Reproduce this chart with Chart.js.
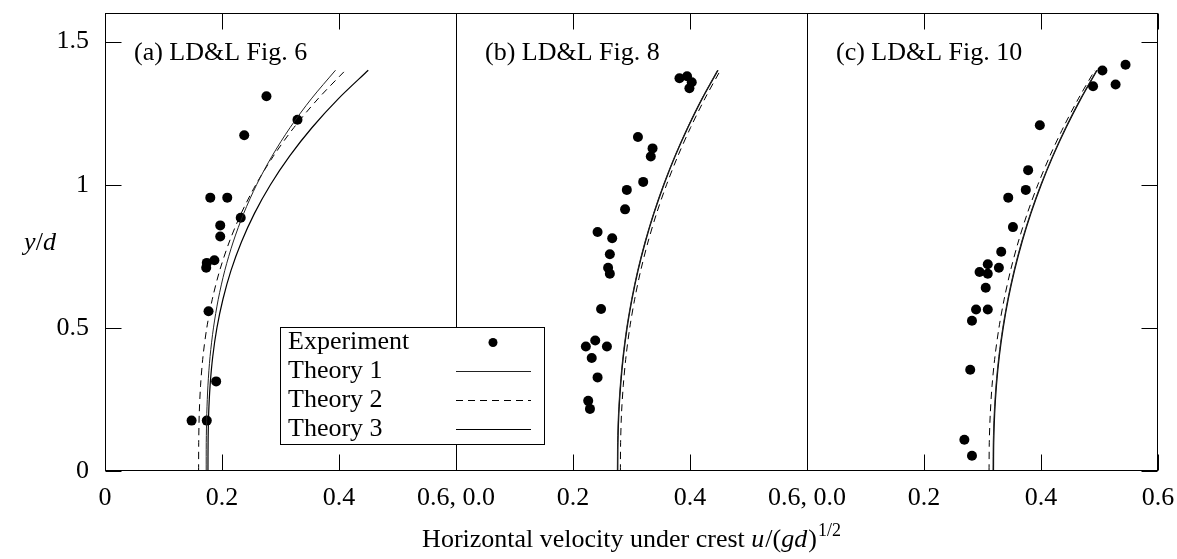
<!DOCTYPE html>
<html><head><meta charset="utf-8">
<script src="https://cdn.jsdelivr.net/npm/chart.js@4.4.0/dist/chart.umd.min.js"></script>
<style>html,body{margin:0;padding:0;background:#fff}canvas{display:block}</style>
</head><body>
<canvas id="c" width="1177" height="559"></canvas>
<script>
// ---------- data ----------
const panelTitles = ['(a) LD&L Fig. 6', '(b) LD&L Fig. 8', '(c) LD&L Fig. 10'];
const panelOffsets = [0, 0.6, 1.2];
const xTickValues = [0, 0.2, 0.4, 0.6, 0.8, 1.0, 1.2, 1.4, 1.6, 1.8];
const xTickLabels = ['0', '0.2', '0.4', '0.6, 0.0', '0.2', '0.4', '0.6, 0.0', '0.2', '0.4', '0.6'];
const yTickValues = [0, 0.5, 1, 1.5];
const yTickLabels = ['0', '0.5', '1', '1.5'];
const legendLabels = ['Experiment', 'Theory 1', 'Theory 2', 'Theory 3'];

const expA_x = [0.276, 0.329, 0.238, 0.180, 0.209, 0.232, 0.197, 0.197, 0.187, 0.174, 0.173, 0.177, 0.190, 0.148, 0.174];
const expA_y = [1.309, 1.227, 1.173, 0.955, 0.955, 0.885, 0.858, 0.819, 0.736, 0.727, 0.710, 0.558, 0.313, 0.176, 0.176];

const expB_x = [0.382, 0.395, 0.403, 0.399, 0.311, 0.336, 0.333, 0.320, 0.292, 0.289, 0.242, 0.267, 0.263, 0.260, 0.263, 0.248, 0.238, 0.222, 0.258, 0.232, 0.242, 0.226, 0.229];
const expB_y = [1.372, 1.379, 1.358, 1.337, 1.167, 1.127, 1.099, 1.010, 0.982, 0.914, 0.835, 0.813, 0.757, 0.710, 0.689, 0.566, 0.456, 0.435, 0.435, 0.395, 0.327, 0.245, 0.217];

const expC_x = [0.5445, 0.505, 0.489, 0.5275, 0.398, 0.378, 0.374, 0.344, 0.352, 0.332, 0.309, 0.328, 0.295, 0.309, 0.3055, 0.289, 0.309, 0.282, 0.279, 0.269, 0.282];
const expC_y = [1.419, 1.399, 1.344, 1.350, 1.208, 1.051, 0.982, 0.955, 0.852, 0.766, 0.722, 0.710, 0.695, 0.689, 0.640, 0.564, 0.564, 0.525, 0.354, 0.109, 0.053];

const curveY = [0, 0.1, 0.2, 0.3, 0.4, 0.5, 0.6, 0.7, 0.8, 0.9, 1.0, 1.1, 1.2, 1.3, 1.4];
const theory1A = [0.173, 0.1731, 0.174, 0.176, 0.1796, 0.1854, 0.1936, 0.2047, 0.2191, 0.2371, 0.2591, 0.2855, 0.3165, 0.3526, 0.394];
const theory2A = [0.160, 0.1602, 0.1611, 0.1634, 0.1675, 0.174, 0.1834, 0.196, 0.2124, 0.2328, 0.2578, 0.2878, 0.323, 0.364, 0.411];
const theory3A = [0.176, 0.1762, 0.1772, 0.1797, 0.1842, 0.1913, 0.2016, 0.2153, 0.2332, 0.2555, 0.2828, 0.3155, 0.354, 0.3987, 0.450];
const theory1B = [0.2758, 0.2762, 0.2777, 0.2808, 0.2854, 0.2918, 0.3002, 0.3105, 0.323, 0.3377, 0.3547, 0.374, 0.3958, 0.42, 0.447];
const theory2B = [0.281, 0.2814, 0.2829, 0.286, 0.2906, 0.297, 0.3054, 0.3157, 0.3282, 0.3429, 0.3599, 0.3792, 0.401, 0.4252, 0.452];
const theory3B = [0.2765, 0.2769, 0.2784, 0.2815, 0.2861, 0.2925, 0.3009, 0.3112, 0.3237, 0.3384, 0.3554, 0.3747, 0.3965, 0.4207, 0.448];
const theory1C = [0.318, 0.3184, 0.32, 0.3231, 0.3279, 0.3346, 0.3432, 0.3539, 0.3668, 0.382, 0.3996, 0.4197, 0.4422, 0.4673, 0.495];
const theory2C = [0.3112, 0.3116, 0.3133, 0.3164, 0.3213, 0.3281, 0.337, 0.3479, 0.3611, 0.3766, 0.3946, 0.4151, 0.4381, 0.4637, 0.492];
const theory3C = [0.3188, 0.3192, 0.3208, 0.3239, 0.3287, 0.3354, 0.344, 0.3547, 0.3676, 0.3828, 0.4004, 0.4205, 0.443, 0.4681, 0.496];

// ---------- build ----------
const SERIF = "'Liberation Serif', 'Times New Roman', serif";
const FS = 26;
function pts(xs, ys, off) { return xs.map((v, i) => ({ x: v + off, y: ys[i] })); }

const expSets = [[expA_x, expA_y], [expB_x, expB_y], [expC_x, expC_y]];
const theorySets = [
  [theory1A, theory2A, theory3A],
  [theory1B, theory2B, theory3B],
  [theory1C, theory2C, theory3C]
];
const theoryStyles = [
  { borderColor: '#222', borderWidth: 1, borderDash: [] },
  { borderColor: '#000', borderWidth: 1, borderDash: [7, 5] },
  { borderColor: '#000', borderWidth: 1.2, borderDash: [] }
];

const datasets = [];
panelOffsets.forEach((off, p) => {
  theorySets[p].forEach((xs, k) => {
    datasets.push(Object.assign({
      label: legendLabels[k + 1],
      data: pts(xs, curveY, off),
      showLine: true, pointRadius: 0, pointHoverRadius: 0,
      tension: 0.3, fill: false
    }, theoryStyles[k]));
  });
  datasets.push({
    label: legendLabels[0],
    data: pts(expSets[p][0], expSets[p][1], off),
    showLine: false, pointRadius: 5, pointHoverRadius: 5,
    pointBackgroundColor: '#000', pointBorderWidth: 0, borderColor: '#000'
  });
});

function drawMixed(ctx, pieces, x, y) {
  let cx = x;
  pieces.forEach(p => {
    ctx.font = p.font;
    ctx.fillText(p.t, cx, y + (p.dy || 0));
    cx += ctx.measureText(p.t).width + (p.kern || 0);
  });
}
function mixedWidth(ctx, pieces) {
  let w = 0;
  pieces.forEach(p => { ctx.font = p.font; w += ctx.measureText(p.t).width + (p.kern || 0); });
  return w;
}

const decor = {
  id: 'decor',
  beforeDatasetsDraw(chart) {
    const { ctx, chartArea: a, scales: { x } } = chart;
    ctx.save();
    ctx.strokeStyle = '#000'; ctx.lineWidth = 1;
    panelOffsets.slice(1).forEach(v => {
      const px = Math.round(x.getPixelForValue(v)) + 0.5;
      ctx.beginPath(); ctx.moveTo(px, a.top); ctx.lineTo(px, a.bottom); ctx.stroke();
    });
    ctx.restore();
  },
  afterDraw(chart) {
    const { ctx, chartArea: a, scales: { x, y } } = chart;
    const TL = 16;
    ctx.save();
    ctx.strokeStyle = '#000'; ctx.lineWidth = 1;
    // frame
    const L = Math.round(a.left) + 0.5, R = Math.round(a.right) - 0.5;
    const T = Math.round(a.top) + 0.5, B = Math.round(a.bottom) - 0.5;
    ctx.strokeRect(L, T, R - L, B - T);
    // inward ticks
    xTickValues.forEach(v => {
      const px = Math.round(x.getPixelForValue(v)) + 0.5;
      ctx.beginPath();
      ctx.moveTo(px, B); ctx.lineTo(px, B - TL);
      ctx.moveTo(px, T); ctx.lineTo(px, T + TL);
      ctx.stroke();
    });
    yTickValues.forEach(v => {
      const py = Math.round(y.getPixelForValue(v)) + 0.5;
      ctx.beginPath();
      ctx.moveTo(L, py); ctx.lineTo(L + TL, py);
      ctx.moveTo(R, py); ctx.lineTo(R - TL, py);
      ctx.stroke();
    });
    // panel titles
    ctx.fillStyle = '#000';
    ctx.textBaseline = 'alphabetic'; ctx.textAlign = 'left';
    ctx.font = FS + 'px ' + SERIF;
    panelOffsets.forEach((off, p) => {
      ctx.fillText(panelTitles[p], x.getPixelForValue(off) + 29, 60);
    });
    // legend
    const lg = { l: 280.5, t: 327.5, w: 264, h: 117 };
    ctx.fillStyle = '#fff';
    ctx.fillRect(lg.l, lg.t, lg.w, lg.h);
    ctx.strokeRect(lg.l, lg.t, lg.w, lg.h);
    ctx.fillStyle = '#000';
    ctx.font = FS + 'px ' + SERIF;
    const baselines = [349, 378, 407, 436];
    legendLabels.forEach((t, i) => ctx.fillText(t, 288, baselines[i]));
    ctx.beginPath(); ctx.arc(493, 342.5, 4.5, 0, Math.PI * 2); ctx.fill();
    for (let k = 0; k < 3; k++) {
      const st = theoryStyles[k];
      ctx.strokeStyle = st.borderColor; ctx.lineWidth = st.borderWidth;
      ctx.setLineDash(st.borderDash);
      const ly = baselines[k + 1] - 6.5;
      ctx.beginPath(); ctx.moveTo(456, ly); ctx.lineTo(531, ly); ctx.stroke();
    }
    ctx.setLineDash([]);
    // y axis title: y/d
    const it = 'italic ' + FS + 'px ' + SERIF, rm = FS + 'px ' + SERIF;
    const yl = [{ t: 'y', font: it }, { t: '/', font: rm }, { t: 'd', font: it }];
    const yw = mixedWidth(ctx, yl);
    drawMixed(ctx, yl, 40 - yw / 2, 250);
    // x axis title
    const xl = [
      { t: 'Horizontal velocity under crest ', font: rm },
      { t: 'u', font: it, kern: 1 },
      { t: '/(', font: rm },
      { t: 'gd', font: it, kern: 1 },
      { t: ')', font: rm, kern: 1 },
      { t: '1/2', font: '18px ' + SERIF, dy: -11 }
    ];
    const xw = mixedWidth(ctx, xl);
    drawMixed(ctx, xl, (a.left + a.right) / 2 - xw / 2, 547);
    ctx.restore();
  }
};

new Chart(document.getElementById('c'), {
  type: 'scatter',
  data: { datasets },
  plugins: [decor],
  options: {
    responsive: false, animation: false, devicePixelRatio: 1,
    layout: { padding: { left: 0, right: 19, top: 13, bottom: 0 } },
    plugins: { legend: { display: false }, tooltip: { enabled: false } },
    font: { family: SERIF, size: FS },
    scales: {
      x: {
        type: 'linear', min: 0, max: 1.8,
        afterBuildTicks: s => { s.ticks = xTickValues.map(v => ({ value: v })); },
        ticks: {
          callback: (v) => xTickLabels[xTickValues.findIndex(t => Math.abs(t - v) < 1e-9)],
          padding: 12, maxRotation: 0, autoSkip: false, color: '#000',
          font: { family: SERIF, size: FS }
        },
        grid: { display: false, drawTicks: false },
        border: { display: false },
        afterFit: s => { s.height = 88; s.paddingLeft = 0; s.paddingRight = 0; }
      },
      y: {
        type: 'linear', min: 0, max: 1.6,
        afterBuildTicks: s => { s.ticks = yTickValues.map(v => ({ value: v })); },
        ticks: {
          callback: (v) => yTickLabels[yTickValues.findIndex(t => Math.abs(t - v) < 1e-9)],
          padding: 16, color: '#000',
          font: { family: SERIF, size: FS }
        },
        grid: { display: false, drawTicks: false },
        border: { display: false },
        afterFit: s => { s.width = 105; s.paddingTop = 0; s.paddingBottom = 0; }
      }
    }
  }
});
</script>
</body></html>
